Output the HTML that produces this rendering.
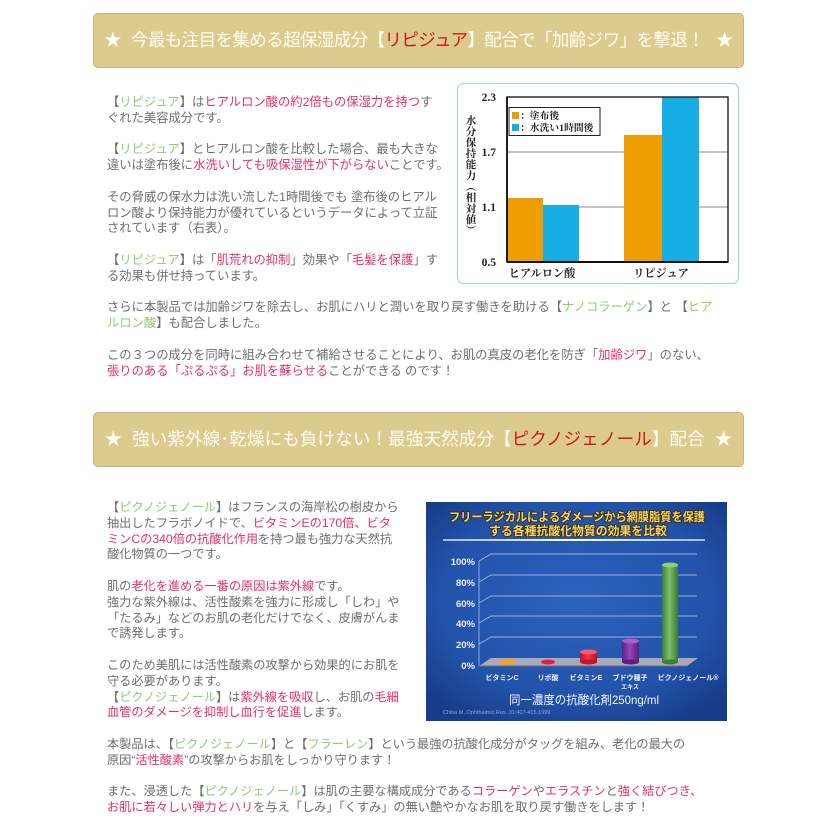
<!DOCTYPE html>
<html><head><meta charset="utf-8">
<style>
html,body{margin:0;padding:0;background:#fff;}
body{width:837px;height:837px;position:relative;overflow:hidden;font-family:"Liberation Sans","Noto Sans CJK JP",sans-serif;}
.banner{position:absolute;left:93px;width:651px;height:55px;box-sizing:border-box;background:#dccb8f;border:1px solid #c8b47b;border-radius:5px;color:#fffdf2;font-size:17.5px;line-height:53px;text-align:center;white-space:nowrap;}
.banner .r{color:#d4141c;}
.txt{position:absolute;left:107px;color:#6e6e6e;line-height:15.8px;white-space:nowrap;}
.t1{top:95px;font-size:12.3px;}
.t2{top:500px;font-size:12.2px;}
.g{color:#93c97a;}
.p{color:#e6306a;}
svg{position:absolute;left:0;top:0;}
</style></head><body>

<div class="banner" style="top:13px;letter-spacing:-0.6px;">★<span style="margin-left:10px">今最も注目を集める超保湿成分【<span class="r">リピジュア</span>】配合で「加齢ジワ」を撃退！</span><span style="margin-left:12px">★</span></div>

<div class="banner" style="top:412px;letter-spacing:0.15px;">★<span style="margin-left:10px">強い紫外線･乾燥にも負けない！最強天然成分【<span class="r">ピクノジェノール</span>】配合</span><span style="margin-left:10px">★</span></div>

<div class="txt t1">
【<span class="g">リピジュア</span>】は<span class="p">ヒアルロン酸の約2倍もの保湿力を持つ</span>す<br>
ぐれた美容成分です。<br>
<br>
【<span class="g">リピジュア</span>】とヒアルロン酸を比較した場合、最も大きな<br>
違いは塗布後に<span class="p">水洗いしても吸保湿性が下がらない</span>ことです。<br>
<br>
その脅威の保水力は洗い流した1時間後でも 塗布後のヒアル<br>
ロン酸より保持能力が優れているというデータによって立証<br>
されています（右表）。<br>
<br>
【<span class="g">リピジュア</span>】は「<span class="p">肌荒れの抑制</span>」効果や「<span class="p">毛髪を保護</span>」す<br>
る効果も併せ持っています。<br>
<br>
さらに本製品では加齢ジワを除去し、お肌にハリと潤いを取り戻す働きを助ける【<span class="g">ナノコラーゲン</span>】と 【<span class="g">ヒア</span><br>
<span class="g">ルロン酸</span>】も配合しました。<br>
<br>
この３つの成分を同時に組み合わせて補給させることにより、お肌の真皮の老化を防ぎ「<span class="p">加齢ジワ</span>」のない、<br>
<span class="p">張りのある「ぷるぷる」お肌を蘇らせる</span>ことができる のです！
</div>

<div class="txt t2">
【<span class="g">ピクノジェノール</span>】はフランスの海岸松の樹皮から<br>
抽出したフラボノイドで、<span class="p">ビタミンEの170倍、ビタ</span><br>
<span class="p">ミンCの340倍の抗酸化作用</span>を持つ最も強力な天然抗<br>
酸化物質の一つです。<br>
<br>
肌の<span class="p">老化を進める一番の原因は紫外線</span>です。<br>
強力な紫外線は、活性酸素を強力に形成し「しわ」や<br>
「たるみ」などのお肌の老化だけでなく、皮膚がんま<br>
で誘発します。<br>
<br>
このため美肌には活性酸素の攻撃から効果的にお肌を<br>
守る必要があります。<br>
【<span class="g">ピクノジェノール</span>】は<span class="p">紫外線を吸収</span>し、お肌の<span class="p">毛細</span><br>
<span class="p">血管のダメージを抑制し血行を促進</span>します。<br>
<br>
本製品は、【<span class="g">ピクノジェノール</span>】と【<span class="g">フラーレン</span>】という最強の抗酸化成分がタッグを組み、老化の最大の<br>
原因“<span class="p">活性酸素</span>”の攻撃からお肌をしっかり守ります！<br>
<br>
また、浸透した【<span class="g">ピクノジェノール</span>】は肌の主要な構成成分である<span class="p">コラーゲン</span>や<span class="p">エラスチン</span>と<span class="p">強く結びつき、</span><br>
<span class="p">お肌に若々しい弾力とハリ</span>を与え「しみ」「くすみ」の無い艶やかなお肌を取り戻す働きをします！
</div>

<svg width="837" height="837" viewBox="0 0 837 837" xmlns="http://www.w3.org/2000/svg">
<defs>
<radialGradient id="bg2" cx="50%" cy="45%" r="65%">
<stop offset="0" stop-color="#2d62bf"/>
<stop offset="0.7" stop-color="#2252a9"/>
<stop offset="1" stop-color="#173d8a"/>
</radialGradient>
<linearGradient id="grn" x1="0" x2="1">
<stop offset="0" stop-color="#3f7d3a"/><stop offset="0.45" stop-color="#7cc06a"/><stop offset="1" stop-color="#3d7a37"/>
</linearGradient>
<linearGradient id="pur" x1="0" x2="1">
<stop offset="0" stop-color="#5a1f7c"/><stop offset="0.45" stop-color="#9448bb"/><stop offset="1" stop-color="#581e78"/>
</linearGradient>
<linearGradient id="red" x1="0" x2="1">
<stop offset="0" stop-color="#b8142c"/><stop offset="0.45" stop-color="#f2384e"/><stop offset="1" stop-color="#b0132a"/>
</linearGradient>
<linearGradient id="sep" x1="0" x2="1">
<stop offset="0" stop-color="#9fb8e6"/><stop offset="0.5" stop-color="#ffffff"/><stop offset="1" stop-color="#9fb8e6"/>
</linearGradient>
</defs>

<!-- Chart 1 -->
<rect x="457.5" y="83.5" width="281" height="200" rx="6" fill="#fff" stroke="#a6d7cb" stroke-width="1.2"/>
<line x1="507" y1="152" x2="728" y2="152" stroke="#8a8a8a" stroke-width="0.9"/>
<line x1="507" y1="207" x2="728" y2="207" stroke="#8a8a8a" stroke-width="0.9"/>
<rect x="507" y="198" width="36" height="64" fill="#ef9d00"/>
<rect x="543" y="205" width="36" height="57" fill="#17ade5"/>
<rect x="624" y="135" width="38" height="127" fill="#ef9d00"/>
<rect x="662" y="97" width="37" height="165" fill="#17ade5"/>
<rect x="507" y="97" width="221" height="165" fill="none" stroke="#1e1e1e" stroke-width="1.4"/>
<line x1="507" y1="262" x2="728" y2="262" stroke="#111" stroke-width="2"/>
<line x1="507" y1="97" x2="507" y2="262" stroke="#111" stroke-width="1.8"/>
<g font-family="Liberation Serif, Noto Serif CJK SC, serif" font-weight="bold" font-size="11.5" fill="#222" text-anchor="end">
<text x="496" y="101">2.3</text>
<text x="496" y="156">1.7</text>
<text x="496" y="211">1.1</text>
<text x="496" y="266">0.5</text>
</g>
<g font-family="Noto Serif CJK SC, Noto Sans CJK JP, serif" font-weight="bold" font-size="10.5" fill="#222" text-anchor="middle">
<text x="471" y="124">水</text>
<text x="471" y="135">分</text>
<text x="471" y="146">保</text>
<text x="471" y="157">持</text>
<text x="471" y="168">能</text>
<text x="471" y="179">力</text>
<text x="471" y="190">︵</text>
<text x="471" y="201">相</text>
<text x="471" y="212">対</text>
<text x="471" y="223">値</text>
<text x="471" y="234">︶</text>
</g>
<rect x="509" y="107.5" width="91" height="28" fill="#fff" stroke="#222" stroke-width="1"/>
<rect x="512" y="112" width="7" height="7" fill="#ef9d00"/>
<rect x="512" y="124" width="7" height="7" fill="#17ade5"/>
<g font-family="Liberation Serif, Noto Serif CJK SC, serif" font-weight="bold" font-size="9.8" fill="#222">
<text x="520" y="119">：塗布後</text>
<text x="520" y="131">：水洗い1時間後</text>
</g>
<g font-family="Liberation Serif, Noto Serif CJK SC, serif" font-weight="bold" font-size="11.2" fill="#222" text-anchor="middle">
<text x="542" y="277">ヒアルロン酸</text>
<text x="661" y="277">リピジュア</text>
</g>

<!-- Chart 2 -->
<rect x="426" y="502" width="301" height="219" fill="url(#bg2)"/>
<g font-family="Liberation Sans, Noto Sans CJK JP, sans-serif" font-weight="bold" font-size="12" text-anchor="middle" fill="#f4d46c" stroke="#3b2b08" stroke-width="1.6" paint-order="stroke">
<text x="577" y="521" textLength="256" lengthAdjust="spacingAndGlyphs">フリーラジカルによるダメージから網膜脂質を保護</text>
<text x="578" y="535" textLength="178" lengthAdjust="spacingAndGlyphs">する各種抗酸化物質の効果を比較</text>
</g>
<rect x="443" y="539" width="262" height="2" fill="url(#sep)"/>
<g stroke="#9cb0dc" stroke-width="0.9" fill="none">
<path d="M479,561 L491,554 L697,554"/>
<path d="M479,582 L491,575 L697,575"/>
<path d="M479,603 L491,596 L697,596"/>
<path d="M479,623 L491,616 L697,616"/>
<path d="M479,644 L491,637 L697,637"/>
<line x1="479" y1="561" x2="479" y2="666"/>
</g>
<polygon points="479,666 491,658 698,658 687,666" fill="#a9a9ba"/>
<line x1="479" y1="666" x2="687" y2="666" stroke="#6d6d80" stroke-width="1"/>
<g font-family="Liberation Sans, sans-serif" font-weight="bold" font-size="9.5" fill="#eef0f8" text-anchor="end">
<text x="475" y="565">100%</text>
<text x="475" y="586">80%</text>
<text x="475" y="607">60%</text>
<text x="475" y="627">40%</text>
<text x="475" y="648">20%</text>
<text x="475" y="669">0%</text>
</g>
<ellipse cx="507" cy="662" rx="9" ry="3" fill="#f0a030"/>
<ellipse cx="548" cy="662" rx="7" ry="2.5" fill="#e0223e"/>
<rect x="580" y="652" width="17" height="10" fill="url(#red)"/>
<ellipse cx="588.5" cy="662" rx="8.5" ry="2.5" fill="#c0172f"/>
<ellipse cx="588.5" cy="652" rx="8.5" ry="2.5" fill="#ff5a6a"/>
<rect x="622" y="641" width="17" height="21" fill="url(#pur)"/>
<ellipse cx="630.5" cy="662" rx="8.5" ry="2.5" fill="#5c2080"/>
<ellipse cx="630.5" cy="641" rx="8.5" ry="2.5" fill="#a860cc"/>
<rect x="662" y="565" width="16" height="97" fill="url(#grn)"/>
<ellipse cx="670" cy="662" rx="8" ry="2.5" fill="#3f7d3a"/>
<ellipse cx="670" cy="565" rx="8" ry="2.5" fill="#8ed07a"/>
<g font-family="Liberation Sans, Noto Sans CJK JP, sans-serif" font-weight="bold" font-size="7" fill="#f2f2fa" text-anchor="middle">
<text x="502" y="680">ビタミンC</text>
<text x="548" y="680">リポ酸</text>
<text x="586" y="680">ビタミンE</text>
<text x="630" y="680">ブドウ種子</text>
<text x="630" y="689" font-size="6">エキス</text>
<text x="688" y="680">ピクノジェノール®</text>
</g>
<text x="584" y="704" font-family="Liberation Sans, Noto Sans CJK JP, sans-serif" font-size="12" fill="#f4f6ff" text-anchor="middle" textLength="150" lengthAdjust="spacingAndGlyphs">同一濃度の抗酸化剤250ng/ml</text>
<text x="443" y="714" font-family="Liberation Sans, sans-serif" font-size="5.5" fill="#8ea4cf">Chiba M, Ophthalmic Res. 31:407-415,1999</text>
</svg>

</body></html>
